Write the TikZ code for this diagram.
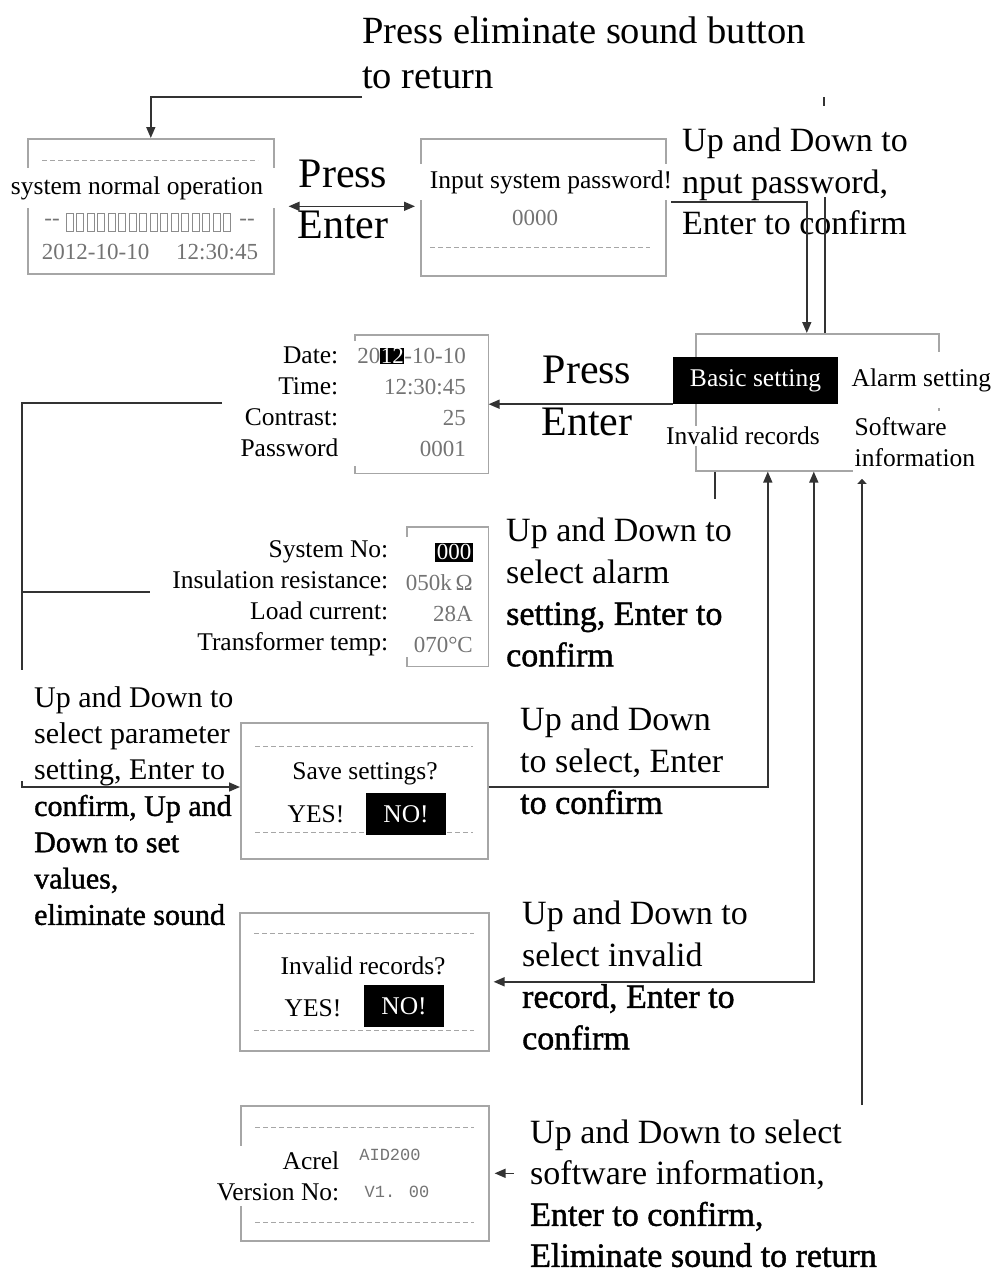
\documentclass[tikz,border=0pt]{standalone}
\usepackage{fontspec}
\setmainfont{Liberation Serif}
\newfontfamily\lcdmono{Liberation Mono}
\newfontfamily\heavy{Liberation Serif}[FakeBold=1.3]
\usetikzlibrary{arrows.meta,positioning,calc}

\begin{document}
\begin{tikzpicture}[
    x=1pt, y=-1pt,
    >={Triangle[length=11pt,width=9pt]},
    screen/.style={draw=black!35, line width=1.6pt, inner sep=0pt, anchor=north west},
    screenline/.style={draw=black!35, line width=1.6pt},
    lcd/.style={font=\fontsize{25.5}{31}\selectfont, fill=white, inner sep=1.5pt},
    lcdval/.style={font=\fontsize{23}{31}\selectfont, text=black!55, inner sep=1pt},
    hilite/.style={fill=black, text=white, font=\fontsize{25.5}{31}\selectfont,
        minimum width=80pt, minimum height=42pt, inner sep=0pt},
    dashrule/.style={draw=black!35, line width=1pt, dash pattern=on 5pt off 3pt},
    cellbox/.style={draw=black!45, line width=1pt},
    note/.style={font=\fontsize{34}{41.5}\selectfont, align=left, anchor=north west, inner sep=0pt},
    press/.style={font=\fontsize{42}{51}\selectfont, align=center, anchor=north, inner sep=0pt},
    flow/.style={draw=black!80, line width=1.6pt},
]
\useasboundingbox (0,0) rectangle (996,1275);

% screens
\node[screen, minimum width=246pt, minimum height=135pt] (normal) at (27,138) {};
\node[screen, minimum width=245pt, minimum height=137pt] (pwd) at (420,138) {};
\node[screen, minimum width=243pt, minimum height=137pt] (menu) at (695,333) {};
\node[screen, draw=none, minimum width=132pt, minimum height=137pt] (basic) at (355,335) {};
\node[screen, draw=none, minimum width=80pt, minimum height=138pt] (alarm) at (407,527) {};
\node[screen, minimum width=247pt, minimum height=136pt] (save) at (240,722) {};
\node[screen, minimum width=249pt, minimum height=138pt] (invalid) at (239,912) {};
\node[screen, minimum width=248pt, minimum height=135pt] (version) at (240,1105) {};
\draw[screenline] ([yshift=-6pt]basic.north west) -- (basic.north west) -- (basic.north east)
    -- (basic.south east) -- (basic.south west) -- ([yshift=8pt]basic.south west);
\draw[screenline] ([yshift=-10pt]alarm.north west) -- (alarm.north west) -- (alarm.north east)
    -- (alarm.south east) -- (alarm.south west) -- ([yshift=10pt]alarm.south west);

% normal operation screen
\draw[dashrule] (42,160) -- (258,160);
\node[lcd, minimum width=276pt, minimum height=40pt] (sysop) at (137,188) {system normal operation};
\node[lcdval] (barl) at (52,222) {-{}-};
\node[lcdval] (barr) at (247,222) {-{}-};
\foreach \i in {0,...,15}
    \draw[cellbox] (66+\i*10.5,213) rectangle ++(7,18);
\node[lcdval] (clock) at (150,252) {2012-10-10\hspace{27pt}12:30:45};

% password screen
\node[lcd, minimum width=266pt, minimum height=36pt] (pwdtxt) at (551,182) {Input system password!};
\node[lcdval] (pwdval) at (535,218) {0000};
\draw[dashrule] (430,247) -- (650,247);

% main menu
\node[hilite, minimum width=165pt, minimum height=47pt] (bset) at (755.5,380.5) {Basic setting};
\node[lcd, anchor=west, minimum height=56pt] (aset) at (850,380) {Alarm setting};
\node[lcd] (irec) at (743,436) {Invalid records};
\node[lcd, anchor=west, align=left, inner ysep=6pt] (swinfo) at (853,442) {Software\\information};

% basic setting screen
\node[lcd, anchor=east, align=right] (blab) at (340,402) {Date:\\Time:\\Contrast:\\Password};
\node[lcdval, anchor=east, align=right] (bval) at (467,402)
    {20{\fboxsep=0.5pt\colorbox{black}{\textcolor{white}{12}}}-10-10\\12:30:45\\25\\0001};

% alarm setting screen
\node[lcd, anchor=east, align=right] (alab) at (390,598)
    {System No:\\Insulation resistance:\\Load current:\\Transformer temp:};
\node[lcdval, anchor=east, align=right] (aval) at (474,598)
    {{\fboxsep=1.5pt\colorbox{black}{\textcolor{white}{000}}}\\050k\,Ω\\28A\\070°C};

% save settings screen
\draw[dashrule] (255,746) -- (473,746);
\draw[dashrule] (255,832) -- (473,832);
\node[lcd, fill=none] (savq) at (365,774) {Save settings?};
\node[lcd] (savyes) at (316,814) {YES!};
\node[hilite] (savno) at (406,814) {NO!};

% invalid records screen
\draw[dashrule] (254,933) -- (474,933);
\draw[dashrule] (254,1030) -- (474,1030);
\node[lcd, fill=none] (invq) at (363,966) {Invalid records?};
\node[lcd] (invyes) at (313,1008) {YES!};
\node[hilite] (invno) at (404,1006) {NO!};

% software information screen
\draw[dashrule] (255,1127) -- (474,1127);
\draw[dashrule] (255,1222) -- (474,1222);
\node[lcd, anchor=east, align=right, inner ysep=5pt] (vlab) at (341,1176) {Acrel\\Version No:};
\node[lcdval, font=\lcdmono\fontsize{17}{24}\selectfont] (vmodel) at (390,1155) {AID200};
\node[lcdval, font=\lcdmono\fontsize{17}{24}\selectfont] (vnum) at (397,1192) {V1. 00};

% captions
\node[note, font=\fontsize{38.5}{45}\selectfont] (ret) at (362,17) {Press eliminate sound button\\to return};
\node[press] (press1) at (343,160) {Press\\Enter};
\node[note] (pwdnote) at (682,128) {Up and Down to\\nput password,\\Enter to confirm};
\node[press, font=\fontsize{42}{52}\selectfont] (press2) at (587,356) {Press\\Enter};
\node[note] (alnote) at (506,518)
    {Up and Down to\\select alarm\\{\heavy setting, Enter to}\\{\heavy confirm}};
\node[note, font=\fontsize{30}{36.3}\selectfont] (parnote) at (34,686)
    {Up and Down to\\select parameter\\setting, Enter to\\{\heavy confirm, Up and}\\{\heavy Down to set}\\{\heavy values,}\\{\heavy eliminate sound}};
\node[note] (savnote) at (520,707) {Up and Down\\to select, Enter\\{\heavy to confirm}};
\node[note] (invnote) at (522,901)
    {Up and Down to\\select invalid\\{\heavy record, Enter to}\\{\heavy confirm}};
\node[note, font=\fontsize{34}{41}\selectfont] (swnote) at (530,1120)
    {Up and Down to select\\software information,\\{\heavy Enter to confirm,}\\{\heavy Eliminate sound to return}};

% connectors
\coordinate (retstart) at (362,97);
\coordinate (pwdout) at (671,202);
\coordinate (brtop) at (222,403);
\coordinate (brmid) at (22,592);
\coordinate (parin) at (22,787);
\coordinate (swlow) at (862,1105);

\draw[flow, ->] (retstart) -| (normal.north);
\draw[flow, <->, shorten <=14pt, shorten >=5pt] (normal.east) -- (normal.east -| pwd.west);
\draw[flow, ->] (pwdout) -| ([xshift=-10.5pt]menu.north);
\draw[flow] ([xshift=7.5pt]menu.north) -- ++(0,-136);
\draw[flow] (824,97) -- (824,106);
\draw[flow, ->] (bset.south west) -- (bset.south west -| basic.east);
\draw[flow] (brtop) -| (22,670);
\draw[flow] (brmid) -- (150,592);
\draw[flow, ->] ([yshift=6pt]parin) -- (parin) -- (parin -| save.west);
\draw[flow, ->] (parin -| save.east) -| ([xshift=-49.5pt]menu.south);
\draw[flow, <->] ([xshift=-3.5pt]menu.south) |- ([xshift=4pt]invalid.east);
\draw[flow, -{Triangle[length=5pt,width=9pt]}, shorten >=6pt] (swlow) -- (swlow |- swinfo.south);
\draw[flow, ->] ([xshift=24pt]version.east) -- ([xshift=5pt]version.east);
\draw[flow] ([xshift=20pt]menu.south west) -- ++(0,27);
\end{tikzpicture}
\end{document}
